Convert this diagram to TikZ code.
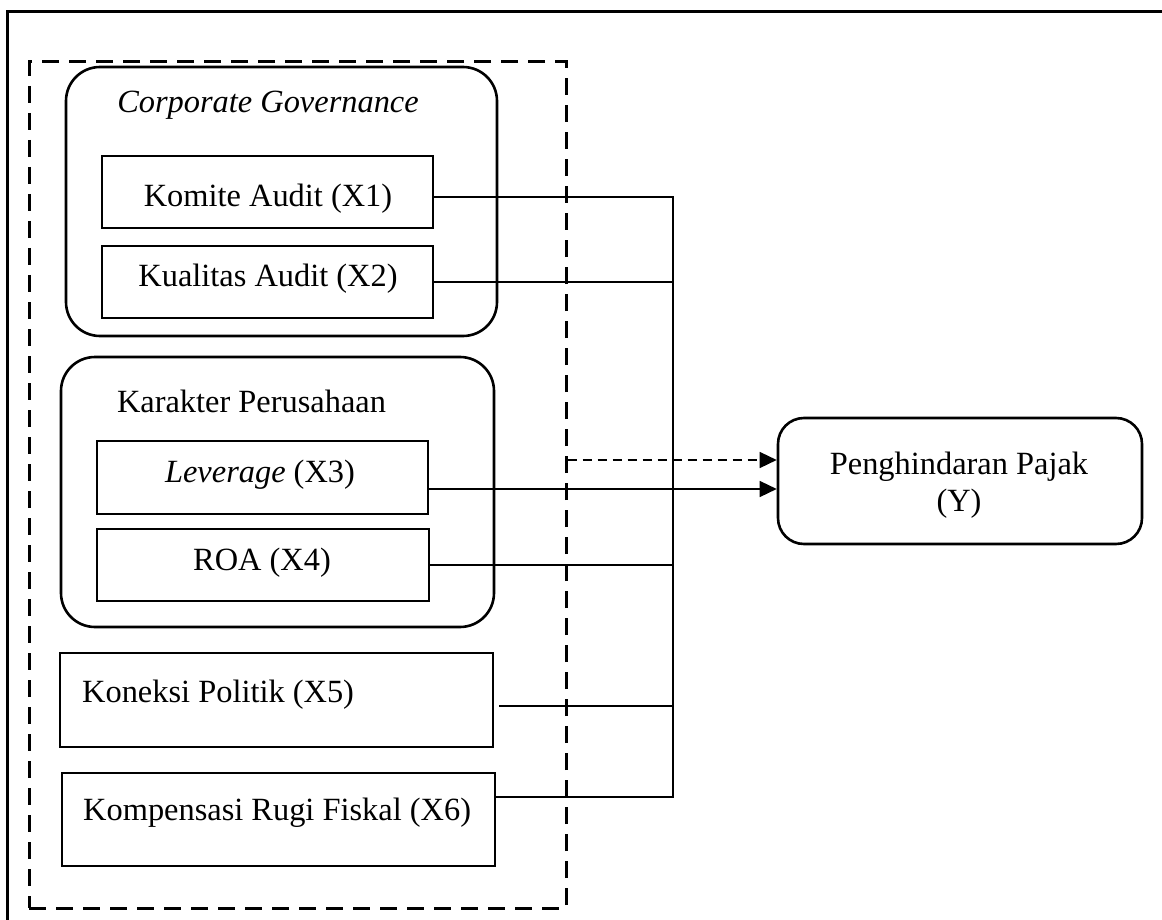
\documentclass[tikz,border=0pt]{standalone}
\usepackage{fontspec}
\setmainfont{Liberation Serif}
\usetikzlibrary{
	arrows.meta
}
\tikzset{
	every node/.append style={
		font=\fontsize{32.4pt}{32pt}\selectfont
	},
	box/.style={draw, line width=2.6pt, inner sep=0pt},
	group/.style={box, rounded corners=34pt},
	lbl/.style={inner sep=0pt, anchor=base},
	link/.style={line width=1.4pt},
	arrow/.style={link, -{Triangle[length=17pt,width=16pt]}},
	dasharrow/.style={arrow, dash pattern=on 9pt off 6pt}
}

\begin{document}
\begin{tikzpicture}[x=1pt,y=-1pt]
		\useasboundingbox (0,0) rectangle (1162,920);
		\draw[line width=3pt] (7,920) |- (1162,12);

		\draw
			node[box,line width=3pt,dash pattern=on 17pt off 10pt,minimum width=537,minimum height=846] (faktor) at (297.5,485) {}
			node[group,minimum width=431,minimum height=269] (cg) at (281.5,201.5) {}
			node[group,minimum width=433,minimum height=270] (kp) at (277.5,492) {}
			node[box,minimum width=331,minimum height=72] (ka)  at (267.5,192) {}
			node[box,minimum width=331,minimum height=72] (kua) at (267.5,282) {}
			node[box,minimum width=331,minimum height=73] (lev) at (262.5,477.5) {}
			node[box,minimum width=332,minimum height=72] (roa) at (263,565) {}
			node[box,minimum width=433,minimum height=94] (kon) at (276.5,700) {}
			node[box,minimum width=433,minimum height=93] (kom) at (278.5,819.5) {}
			node[group,rounded corners=26pt,minimum width=364,minimum height=126] (ph) at (960,481) {}

			node[lbl] (tcg)  at (268,113) {\textit{Corporate Governance}}
			node[lbl] (tkp)  at (251.5,412) {Karakter Perusahaan}
			node[lbl] (tka)  at (268,207) {Komite Audit (X1)}
			node[lbl] (tkua) at (268,287) {Kualitas Audit (X2)}
			node[lbl] (tlev) at (260,482) {\textit{Leverage} (X3)}
			node[lbl] (troa) at (262,570) {ROA (X4)}
			node[lbl,anchor=base west] (tkon) at (82,702) {Koneksi Politik (X5)}
			node[lbl,anchor=base west] (tkom) at (83,820) {Kompensasi Rugi Fiskal (X6)}
			node[lbl,anchor=center,align=center] (tph) at (959,485) {Penghindaran Pajak\\[5pt](Y)}
		;

		\coordinate (bustop) at (673,197);
		\coordinate (busbot) at (673,797);
		\coordinate (dtip) at ([yshift=21pt]ph.west);
		\coordinate (tip) at ([yshift=-8pt]ph.west);
		\coordinate (k5) at ([xshift=5pt,yshift=-6pt]kon.east);

		\draw[link] (ka.east |- bustop) -- (bustop) -- (busbot) -- (kom.east |- busbot);
		\draw
			(kua.east) edge[link] (kua.east -| bustop)
			(roa.east) edge[link] (roa.east -| bustop)
			(k5) edge[link] (k5 -| bustop)
			(lev.east |- tip) edge[arrow] (tip)
			(faktor.east |- dtip) edge[dasharrow] (dtip)
		;
	\end{tikzpicture}
\end{document}
